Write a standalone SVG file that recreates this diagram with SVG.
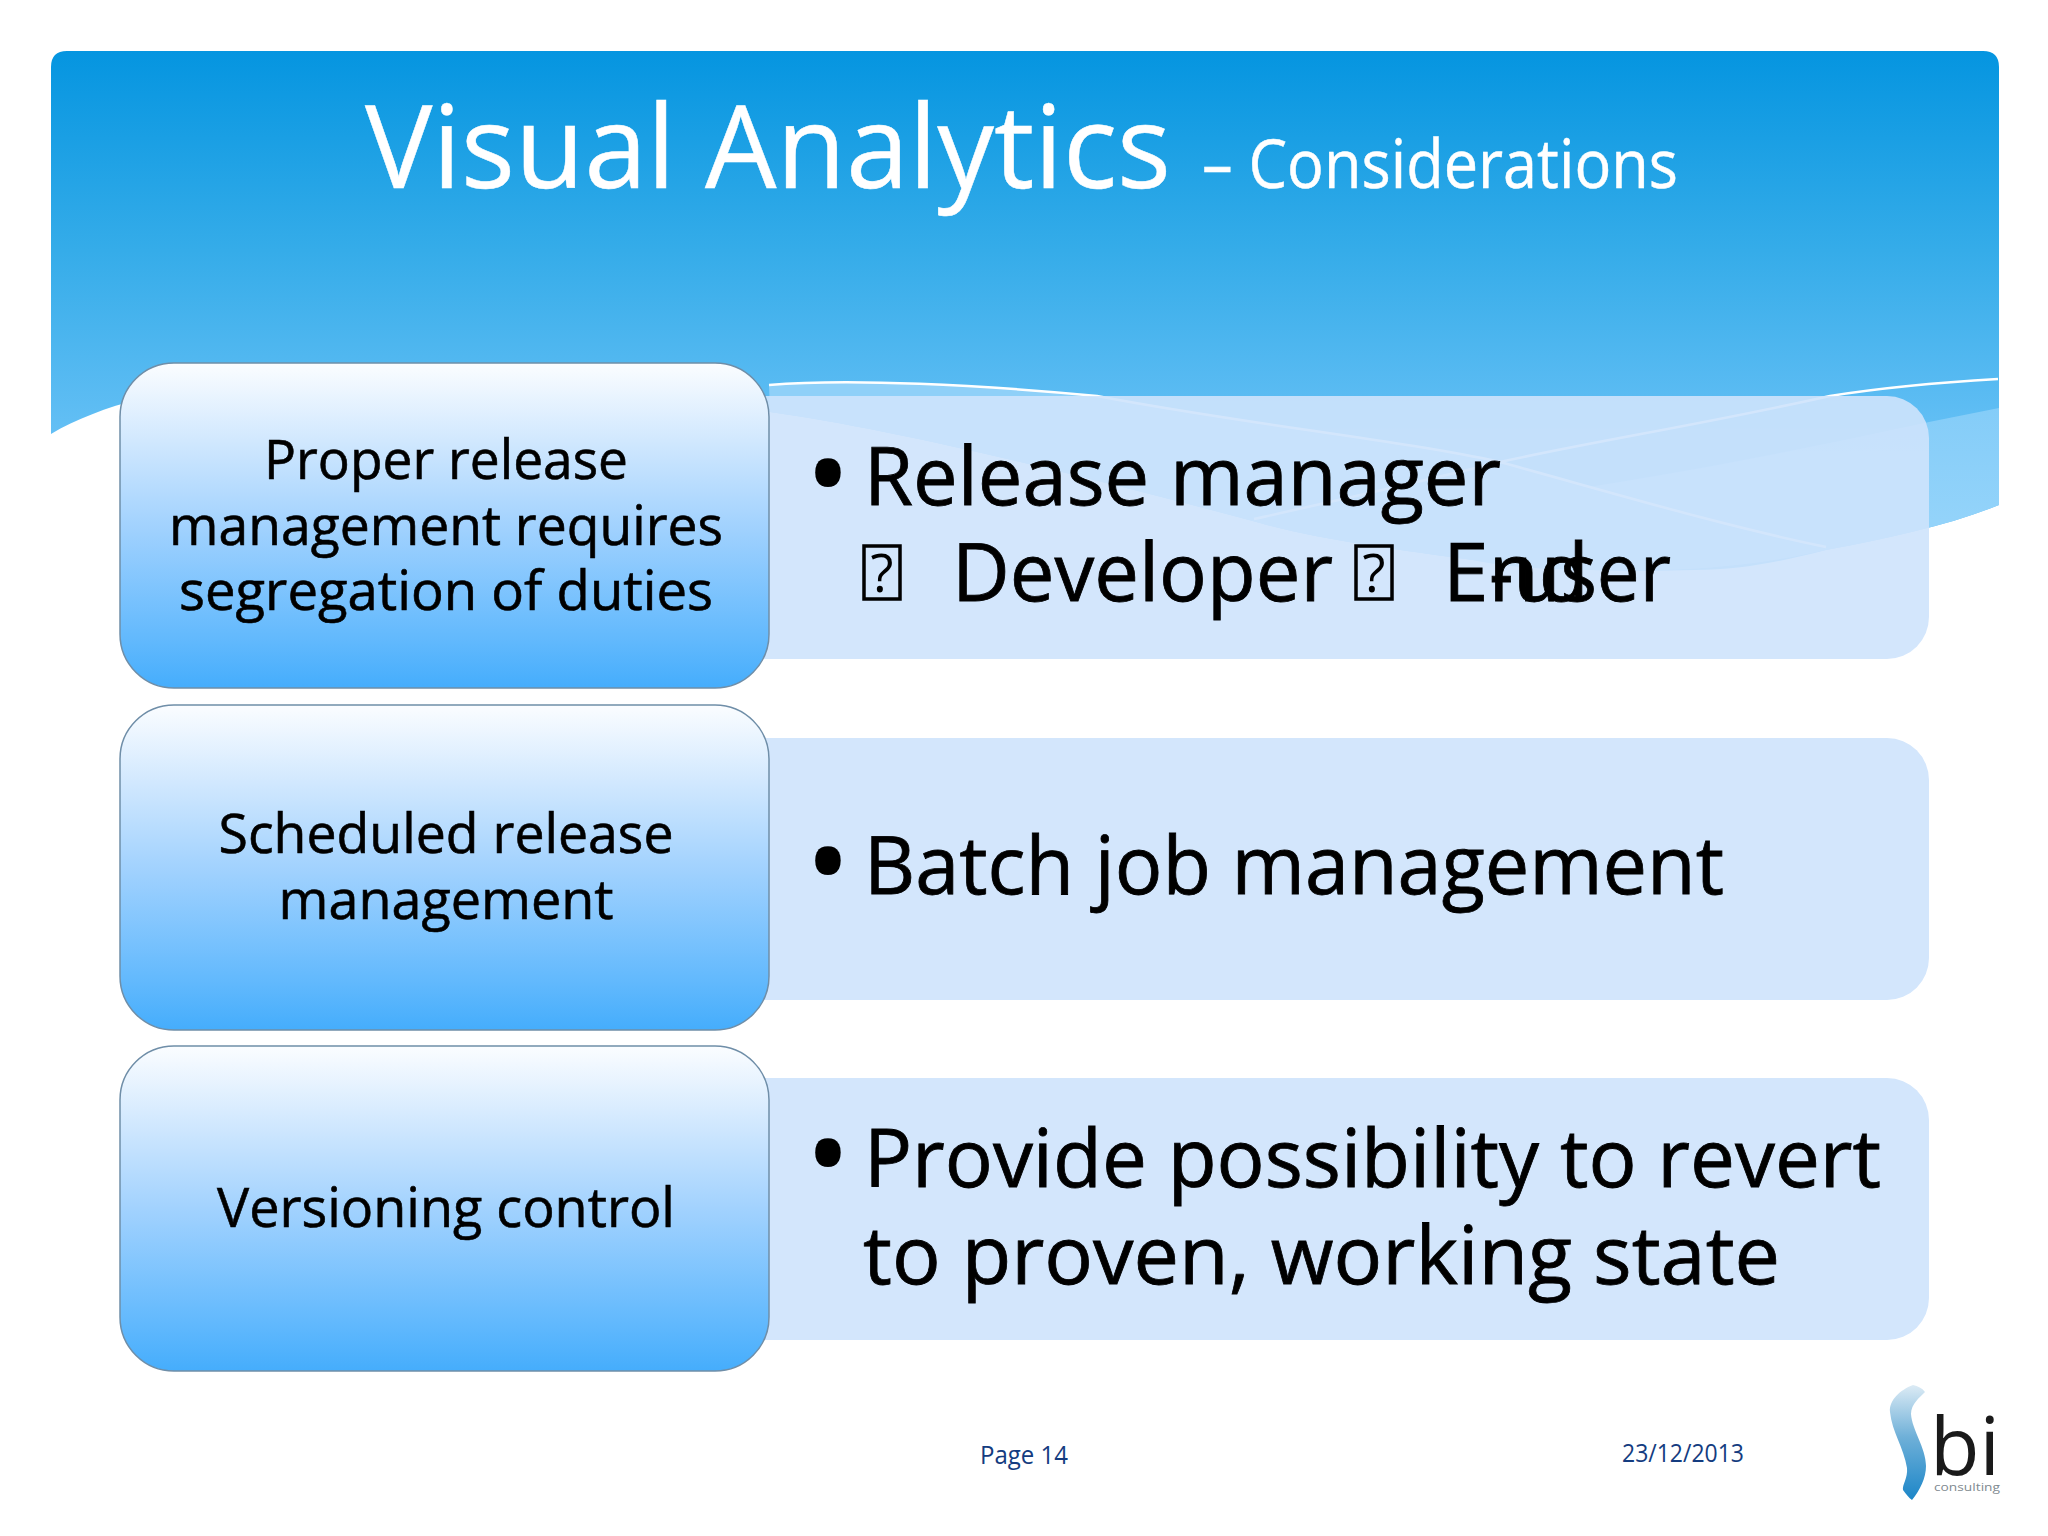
<svg xmlns="http://www.w3.org/2000/svg" width="2048" height="1536" viewBox="0 0 2048 1536">
<defs>
<linearGradient id="sky" gradientUnits="userSpaceOnUse" x1="0" y1="51" x2="0" y2="450"><stop offset="0" stop-color="#0595e0"/><stop offset="0.5" stop-color="#35ace9"/><stop offset="1" stop-color="#68c1f6"/></linearGradient>
<linearGradient id="nodeFill" x1="0" y1="0" x2="0" y2="1"><stop offset="0" stop-color="#fbfdff"/><stop offset="0.25" stop-color="#cfe7fe"/><stop offset="0.5" stop-color="#a2d2fe"/><stop offset="0.85" stop-color="#62b9fd"/><stop offset="1" stop-color="#45adfc"/></linearGradient>
<linearGradient id="band" gradientUnits="userSpaceOnUse" x1="0" y1="400" x2="0" y2="520"><stop offset="0" stop-color="#83ccf8"/><stop offset="1" stop-color="#93d3fa"/></linearGradient>
<linearGradient id="swoosh" x1="0" y1="0" x2="0" y2="1"><stop offset="0" stop-color="#dcebf5"/><stop offset="0.45" stop-color="#6fb0d8"/><stop offset="1" stop-color="#1c86c8"/></linearGradient>
</defs>
<style>
text{font-family:"Open Sans","Noto Sans","Liberation Sans",sans-serif;fill:#000}
.n{font-size:54px;text-anchor:middle;stroke:#000;stroke-width:.6}
.b{font-size:80px;stroke:#000;stroke-width:.8}
.d{font-size:122px}
.t{fill:#fff;stroke:#fff;stroke-width:.5}
.f{font-size:25px;fill:#143c80}
.box{fill:#cee3fc;fill-opacity:.9}
.node{fill:url(#nodeFill);stroke:#6f8ea8;stroke-width:1.5}
.q{fill:none;stroke:#000;stroke-width:3.5}
</style>
<rect width="2048" height="1536" fill="#fff"/>
<g id="background">
<path d="M51 67Q51 51 67 51H1983Q1999 51 1999 67V505C1950 525 1890 538 1826 550C1780 562 1740 570 1696 570C1620 572 1540 570 1473 560C1400 550 1320 540 1260 523C1100 480 900 430 770 412C560 370 200 345 51 434Z" fill="url(#sky)"/>
<path d="M1999 408L1929 422C1800 450 1650 480 1500 500L1600 570C1690 572 1760 565 1826 550C1890 538 1950 525 1999 505Z" fill="url(#band)"/>
<path d="M769 385C850 378 980 385 1097 396C1250 425 1400 440 1500 462C1620 495 1720 525 1826 547C1760 565 1700 572 1600 570C1540 570 1500 566 1473 560C1400 550 1320 540 1260 523C1100 480 900 430 770 412Z" fill="#8fd0f8"/>
<path d="M769 385C850 378 980 385 1097 396C1250 425 1400 440 1500 462C1620 495 1720 525 1826 547" fill="none" stroke="#fff" stroke-width="2.5"/>
<path d="M1998 379C1930 383 1880 388 1830 396C1700 425 1600 440 1500 462C1420 482 1330 502 1254 519" fill="none" stroke="#fff" stroke-width="2.5"/>
</g>
<g id="title">
<text class="t" x="365" y="188" font-size="116" textLength="806" lengthAdjust="spacingAndGlyphs">Visual Analytics</text>
<text class="t" x="1202" y="188" font-size="68" textLength="476" lengthAdjust="spacingAndGlyphs">– Considerations</text>
</g>
<g id="row1-detail">
<rect class="box" x="700" y="396" width="1229" height="263" rx="42"/>
<text class="d" x="805" y="517">•</text>
<text class="b" x="864" y="505" textLength="637" lengthAdjust="spacingAndGlyphs">Release manager</text>
<rect class="q" x="864" y="546" width="36" height="53"/>
<text x="882" y="592" font-size="53" text-anchor="middle">?</text>
<text class="b" x="952" y="601" textLength="381" lengthAdjust="spacingAndGlyphs">Developer</text>
<rect class="q" x="1356" y="546" width="36" height="53"/>
<text x="1374" y="592" font-size="53" text-anchor="middle">?</text>
<text class="b" x="1443" y="601" textLength="146" lengthAdjust="spacingAndGlyphs">End</text>
<text class="b" x="1489" y="601" textLength="182" lengthAdjust="spacingAndGlyphs">-user</text>
</g>
<g id="row1-label">
<rect class="node" x="120" y="363" width="649" height="325" rx="54"/>
<text class="n" x="446" y="479" textLength="364" lengthAdjust="spacingAndGlyphs">Proper release</text>
<text class="n" x="446" y="545" textLength="554" lengthAdjust="spacingAndGlyphs">management requires</text>
<text class="n" x="446" y="610" textLength="534" lengthAdjust="spacingAndGlyphs">segregation of duties</text>
</g>
<g id="row2-detail">
<rect x="700" y="738" width="1229" height="262" rx="42" fill="#d3e6fc"/>
<text class="d" x="805" y="905">•</text>
<text class="b" x="864" y="894" textLength="860" lengthAdjust="spacingAndGlyphs">Batch job management</text>
</g>
<g id="row2-label">
<rect class="node" x="120" y="705" width="649" height="325" rx="54"/>
<text class="n" x="446" y="853" textLength="455" lengthAdjust="spacingAndGlyphs">Scheduled release</text>
<text class="n" x="446" y="919" textLength="335" lengthAdjust="spacingAndGlyphs">management</text>
</g>
<g id="row3-detail">
<rect x="700" y="1078" width="1229" height="262" rx="42" fill="#d3e6fc"/>
<text class="d" x="805" y="1197">•</text>
<text class="b" x="864" y="1187" textLength="1017" lengthAdjust="spacingAndGlyphs">Provide possibility to revert</text>
<text class="b" x="863" y="1284" textLength="917" lengthAdjust="spacingAndGlyphs">to proven, working state</text>
</g>
<g id="row3-label">
<rect class="node" x="120" y="1046" width="649" height="325" rx="54"/>
<text class="n" x="446" y="1227" textLength="458" lengthAdjust="spacingAndGlyphs">Versioning control</text>
</g>
<g id="footer">
<text class="f" x="980" y="1464" textLength="88" lengthAdjust="spacingAndGlyphs">Page 14</text>
<text class="f" x="1622" y="1462" textLength="122" lengthAdjust="spacingAndGlyphs">23/12/2013</text>
</g>
<g id="logo">
<path d="M1913 1385C1900 1390 1889 1400 1890 1412C1892 1432 1904 1448 1907 1468C1908 1478 1902 1485 1903 1490C1906 1494 1909 1498 1912 1500C1920 1490 1926 1478 1926 1466C1926 1448 1912 1430 1911 1414C1911 1404 1920 1397 1925 1392C1922 1388 1918 1386 1913 1385Z" fill="url(#swoosh)"/>
<text x="1930" y="1475" font-size="80" style="fill:#1a1a1a" textLength="70" lengthAdjust="spacingAndGlyphs">bi</text>
<text x="1934" y="1491" font-size="10" style="fill:#7f8a90" textLength="66" lengthAdjust="spacingAndGlyphs">consulting</text>
</g>
</svg>
